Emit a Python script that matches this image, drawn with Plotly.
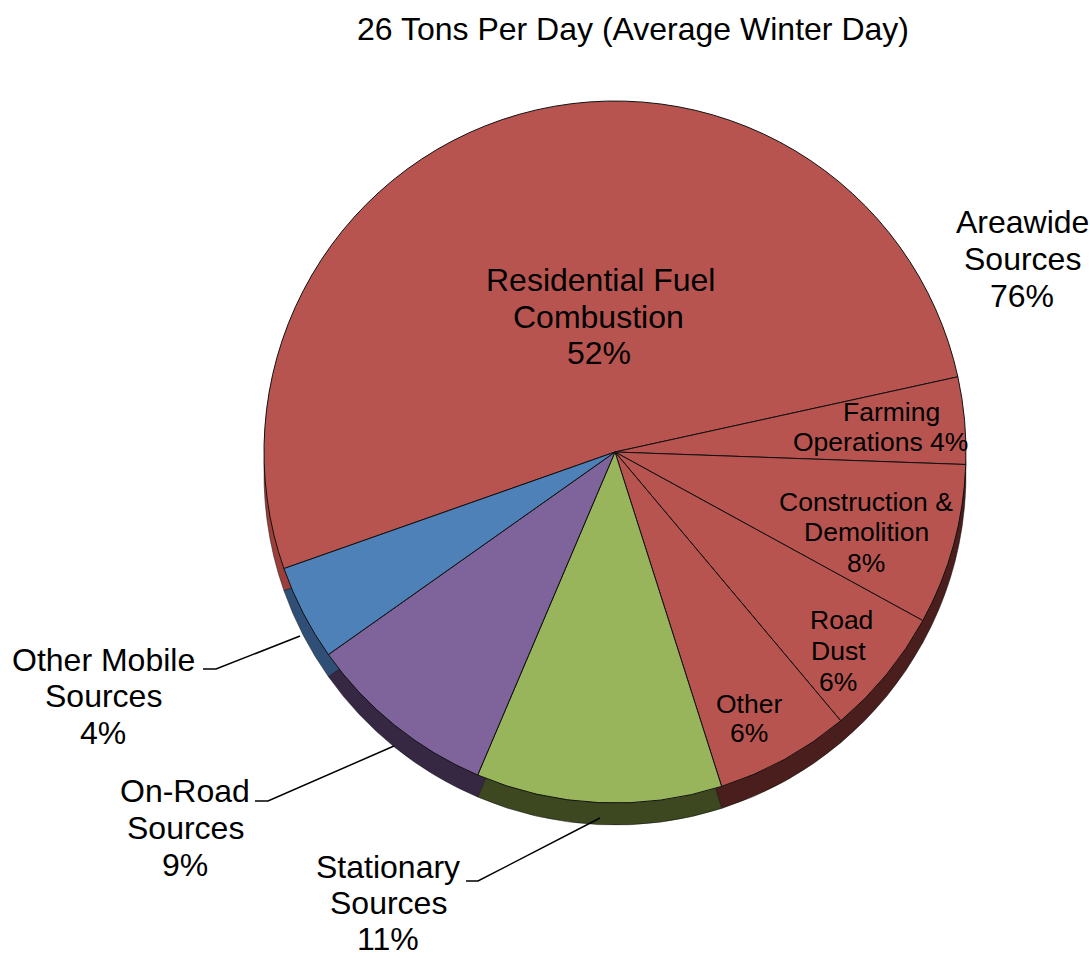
import plotly.graph_objects as go

W, H = 1090, 958
FONT = "Liberation Sans, Arial, sans-serif"

title = "26 Tons Per Day (Average Winter Day)"
categories = ["Residential Fuel Combustion", "Farming Operations", "Construction & Demolition",
              "Road Dust", "Other", "Stationary Sources", "On-Road Sources", "Other Mobile Sources"]
values = [51.9, 4.0, 7.4, 5.9, 6.2, 11.3, 8.8, 4.4]
top_colors = ["#B85450", "#B85450", "#B85450", "#B85450", "#B85450", "#98B55B", "#7F639B", "#4F81B9"]
rim_colors = ["#9C3E3A", "#4A1E1C", "#4A1E1C", "#4A1E1C", "#4A1E1C", "#3D4720", "#362843", "#2F4F77"]

# one line of label text, centre x px, centre y px, font size
label_lines = [
    ("Residential Fuel", 600, 280, 32), ("Combustion", 599, 317, 32), ("52%", 599, 353, 32),
    ("Areawide", 1022, 222, 32), ("Sources", 1022, 259, 32), ("76%", 1022, 296, 32),
    ("Farming", 891, 412, 26.5), ("Operations 4%", 880, 442, 26.5),
    ("Construction &", 866, 502, 26.5), ("Demolition", 866, 532, 26.5), ("8%", 866, 563, 26.5),
    ("Road", 841, 620, 26.5), ("Dust", 838, 651, 26.5), ("6%", 838, 682, 26.5),
    ("Other", 749, 704, 26.5), ("6%", 749, 733, 26.5),
    ("Other Mobile", 103, 660, 32), ("Sources", 103, 696, 32), ("4%", 103, 733, 32),
    ("On-Road", 185, 791, 32), ("Sources", 185, 828, 32), ("9%", 185, 865, 32),
    ("Stationary", 388, 867, 32), ("Sources", 388, 903, 32), ("11%", 388, 939, 32),
]
leaders = [
    [(203, 669), (216, 669), (300, 636)],
    [(255, 801), (268, 801), (394, 746)],
    [(466, 881), (478, 881), (600, 818)],
]

CX, CY, R, DEPTH = 615, 452, 351, 22
ROT = 250.6


def dom(cy):
    return dict(x=[(CX - R) / W, (CX + R) / W], y=[1 - (cy + R) / H, 1 - (cy - R) / H])


fig = go.Figure()
for cy, colors, lw in [(CY + DEPTH, rim_colors, 0.5), (CY, top_colors, 1)]:
    fig.add_trace(go.Pie(labels=categories, values=values, sort=False, direction="clockwise",
                         rotation=ROT, domain=dom(cy), textinfo="none", showlegend=False,
                         marker=dict(colors=colors, line=dict(color="#111111", width=lw))))

for text, x, y, size in label_lines:
    fig.add_annotation(text=text, x=x / W, y=1 - y / H, xref="paper", yref="paper",
                       showarrow=False, xanchor="center", yanchor="middle", align="center",
                       font=dict(family=FONT, size=size, color="#000000"))
fig.add_annotation(text=title, x=633 / W, y=1 - 29 / H, xref="paper", yref="paper", showarrow=False,
                   xanchor="center", yanchor="middle", font=dict(family=FONT, size=32, color="#000000"))

for pts in leaders:
    path = "M " + " L ".join(f"{x / W} {1 - y / H}" for x, y in pts)
    fig.add_shape(type="path", path=path, xref="paper", yref="paper",
                  line=dict(color="#000000", width=1.5))

fig.update_layout(width=W, height=H, margin=dict(l=0, r=0, t=0, b=0), paper_bgcolor="white",
                  font=dict(family=FONT))
fig.write_html("out.html", config={"displayModeBar": False},
               post_script="document.body.style.margin='0';document.body.style.overflow='hidden';")
